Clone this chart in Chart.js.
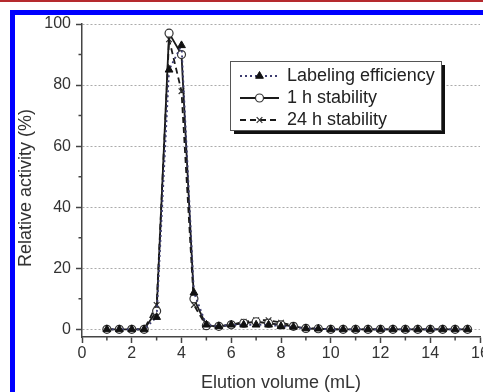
<!DOCTYPE html>
<html>
<head>
<meta charset="utf-8">
<script src="https://cdn.jsdelivr.net/npm/chart.js@4.4.1/dist/chart.umd.min.js"></script>
<style>
  html, body { margin: 0; padding: 0; background: #fff; overflow: hidden; }
  #wrap { position: relative; width: 483px; height: 392px; overflow: hidden; }
  #chart { position: absolute; left: 0; top: 0; }
  .red { position: absolute; left: 0; top: 0; width: 483px; height: 2px; background: #b52a2e; }
  .blue-top { position: absolute; left: 10px; top: 10px; width: 473px; height: 5px; background: #0000ff; }
  .blue-left { position: absolute; left: 10px; top: 10px; width: 5px; height: 382px; background: #0000ff; }
</style>
</head>
<body>
<div id="wrap">
  <canvas id="chart" width="500" height="392"></canvas>
  <div class="red"></div>
  <div class="blue-top"></div>
  <div class="blue-left"></div>
</div>
<script>
// elution volume (mL)
const volume = [1, 1.5, 2, 2.5, 3, 3.5, 4, 4.5, 5, 5.5, 6, 6.5, 7, 7.5, 8, 8.5, 9, 9.5, 10, 10.5, 11, 11.5, 12, 12.5, 13, 13.5, 14, 14.5, 15, 15.5];

// relative activity (%)
const labeling = [0, 0, 0, 0, 4, 85, 93, 12, 1.5, 1, 1.5, 1.5, 1.5, 1.5, 1, 0.8, 0.3, 0.2, 0, 0, 0, 0, 0, 0, 0, 0, 0, 0, 0, 0];
const stability1h = [0, 0, 0, 0, 6, 97, 90, 10, 1.2, 1, 1.5, 2, 2.5, 2, 1.5, 1, 0.3, 0.2, 0, 0, 0, 0, 0, 0, 0, 0, 0, 0, 0, 0];
const stability24h = [0, 0, 0, 0, 8, 95, 78, 8, 1, 1, 1.5, 2.5, 3, 3, 2.2, 1.2, 0.5, 0.2, 0, 0, 0, 0, 0, 0, 0, 0, 0, 0, 0, 0];

const seriesNames = ['Labeling efficiency', '1 h stability', '24 h stability'];

const xTicks = [0, 2, 4, 6, 8, 10, 12, 14, 16];
const xMinorTicks = [1, 3, 5, 7, 9, 11, 13, 15];
const yTicks = [0, 20, 40, 60, 80, 100];
const yMinorTicks = [10, 30, 50, 70, 90];

const FONT = "'Liberation Sans', Arial, sans-serif";

const toPoints = (values) => values.map((y, i) => ({ x: volume[i], y }));

// short minor tick marks, Origin style
const minorTicks = {
  id: 'minorTicks',
  afterDraw(chart) {
    const { ctx, scales: { x, y } } = chart;
    ctx.save();
    ctx.strokeStyle = '#444';
    ctx.lineWidth = 1.5;
    ctx.beginPath();
    xMinorTicks.forEach((v) => {
      const px = x.getPixelForValue(v);
      ctx.moveTo(px, x.top);
      ctx.lineTo(px, x.top + 3.5);
    });
    yMinorTicks.forEach((v) => {
      const py = y.getPixelForValue(v);
      ctx.moveTo(y.right, py);
      ctx.lineTo(y.right - 3.5, py);
    });
    ctx.stroke();
    ctx.restore();
  },
};

const legendBox = {
  id: 'legendBox',
  afterDraw(chart) {
    const { ctx } = chart;
    const bx = 230;
    const by = 61;
    const bw = 211;
    const bh = 69;
    ctx.save();
    ctx.fillStyle = '#111';
    ctx.fillRect(bx + 4, by + 4, bw, bh);
    ctx.fillStyle = '#fff';
    ctx.fillRect(bx, by, bw, bh);
    ctx.strokeStyle = '#555';
    ctx.lineWidth = 1;
    ctx.strokeRect(bx + 0.5, by + 0.5, bw, bh);

    chart.data.datasets.forEach((ds, i) => {
      const cy = 76 + i * 22;
      ctx.strokeStyle = ds.borderColor;
      ctx.lineWidth = ds.borderWidth;
      ctx.setLineDash(ds.borderDash || []);
      ctx.beginPath();
      ctx.moveTo(240, cy);
      ctx.lineTo(279, cy);
      ctx.stroke();
      ctx.setLineDash([]);
      ctx.fillStyle = ds.pointBackgroundColor;
      ctx.strokeStyle = ds.pointBorderColor;
      ctx.lineWidth = ds.pointBorderWidth;
      Chart.helpers.drawPoint(ctx, {
        pointStyle: ds.pointStyle,
        radius: ds.pointRadius,
        rotation: 0,
        borderWidth: ds.pointBorderWidth,
      }, 259.5, cy);
      ctx.fillStyle = '#222';
      ctx.font = `18px ${FONT}`;
      ctx.textBaseline = 'middle';
      ctx.fillText(ds.label, 287, cy);
    });
    ctx.restore();
  },
};

new Chart(document.getElementById('chart'), {
  type: 'line',
  data: {
    datasets: [
      {
        label: seriesNames[0],
        data: toPoints(labeling),
        borderColor: '#3c3c70',
        borderWidth: 1.8,
        borderDash: [2, 3],
        pointStyle: 'triangle',
        pointRadius: 4.5,
        pointBackgroundColor: '#111',
        pointBorderColor: '#111',
        pointBorderWidth: 1,
      },
      {
        label: seriesNames[1],
        data: toPoints(stability1h),
        borderColor: '#1a1a1a',
        borderWidth: 1.8,
        pointStyle: 'circle',
        pointRadius: 4,
        pointBackgroundColor: '#fff',
        pointBorderColor: '#333',
        pointBorderWidth: 1.2,
      },
      {
        label: seriesNames[2],
        data: toPoints(stability24h),
        borderColor: '#1a1a1a',
        borderWidth: 1.8,
        borderDash: [6, 4],
        pointStyle: 'crossRot',
        pointRadius: 4,
        pointBackgroundColor: '#333',
        pointBorderColor: '#333',
        pointBorderWidth: 1.2,
      },
    ],
  },
  options: {
    responsive: false,
    animation: false,
    devicePixelRatio: 1,
    layout: { padding: { top: 24, right: 20, bottom: 0, left: 0 } },
    plugins: {
      legend: { display: false },
      tooltip: { enabled: false },
    },
    scales: {
      x: {
        type: 'linear',
        min: 0,
        max: 16,
        afterBuildTicks: (scale) => { scale.ticks = xTicks.map((value) => ({ value })); },
        afterFit: (scale) => { scale.height = 55; },
        grid: {
          drawOnChartArea: false,
          drawTicks: true,
          tickLength: 6,
          tickColor: '#444',
          tickWidth: 1.5,
        },
        border: { color: '#444', width: 1.5 },
        ticks: {
          padding: 1,
          color: '#333',
          font: { family: FONT, size: 16 },
          maxRotation: 0,
        },
        title: {
          display: true,
          text: 'Elution volume (mL)',
          color: '#333',
          font: { family: FONT, size: 18, lineHeight: 1 },
          padding: { top: 0, bottom: 0 },
        },
      },
      y: {
        min: -2.5,
        max: 100,
        afterBuildTicks: (scale) => { scale.ticks = yTicks.map((value) => ({ value })); },
        afterFit: (scale) => { scale.width = 82; },
        grid: {
          color: '#ababab',
          lineWidth: 1,
          drawTicks: true,
          tickLength: 6,
          tickColor: '#444',
          tickWidth: 1.5,
          tickBorderDash: [],
        },
        border: { color: '#444', width: 1.5, dash: [2, 2] },
        ticks: {
          padding: 5,
          color: '#333',
          font: { family: FONT, size: 16 },
        },
        title: {
          display: true,
          text: 'Relative activity (%)   ',
          color: '#333',
          font: { family: FONT, size: 18, lineHeight: 1 },
          padding: { top: 17, bottom: 0 },
        },
      },
    },
  },
  plugins: [minorTicks, legendBox],
});
</script>
</body>
</html>
